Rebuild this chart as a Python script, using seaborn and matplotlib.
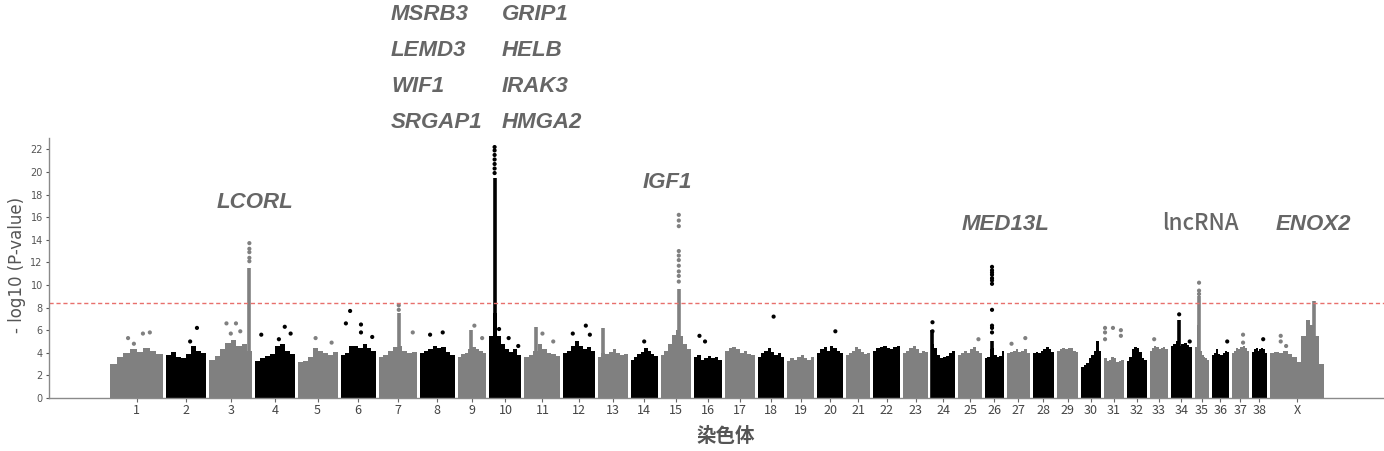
import numpy as np
import pandas as pd
import seaborn as sns
import matplotlib.pyplot as plt

sns.set_style("ticks")
plt.rcParams['font.family'] = ['DejaVu Sans', 'Noto Sans CJK JP']

# chromosomes and their (approximate) lengths in Mb
chrom_names = [str(i) for i in range(1, 39)] + ['X']
chrom_len = [118, 89, 96, 87, 89, 78, 84, 78, 64, 71, 80, 69, 67, 60, 67, 62, 67, 58, 60, 58,
             53, 60, 56, 53, 53, 42, 51, 47, 47, 44, 44, 44, 40, 47, 31, 38, 38, 33, 120]
gap = 6.7

# upper edge of the dense SNP cloud, left to right along each chromosome (-log10 p)
base_profile = [
    [3.0, 3.6, 4.0, 4.3, 4.1, 4.4, 4.2, 3.9],   # 1
    [3.8, 4.1, 3.6, 3.5, 3.9, 4.6, 4.2, 4.0],   # 2
    [3.4, 3.7, 4.3, 4.9, 5.1, 4.6, 4.8, 4.2],   # 3
    [3.3, 3.5, 3.7, 3.9, 4.6, 4.8, 4.2, 3.9],   # 4
    [3.2, 3.3, 3.6, 4.4, 4.2, 4.0, 3.8, 4.1],   # 5
    [3.8, 4.0, 4.6, 4.6, 4.4, 4.8, 4.4, 4.2],   # 6
    [3.6, 3.8, 4.2, 4.5, 4.6, 4.2, 4.0, 4.1],   # 7
    [4.0, 4.2, 4.3, 4.6, 4.4, 4.5, 4.1, 3.8],   # 8
    [3.6, 3.9, 4.0, 4.3, 4.5, 4.3, 4.2, 4.0],   # 9
    [5.5, 7.5, 5.5, 4.8, 4.3, 4.1, 4.3, 3.8],   # 10
    [3.6, 3.8, 4.2, 4.8, 4.3, 4.0, 3.9, 3.7],   # 11
    [4.0, 4.2, 4.6, 5.0, 4.6, 4.3, 4.5, 4.2],   # 12
    [3.6, 4.0, 3.9, 4.1, 4.3, 4.0, 3.8, 3.9],   # 13
    [3.4, 3.6, 3.9, 4.1, 4.4, 4.2, 3.9, 3.7],   # 14
    [3.8, 4.2, 4.8, 5.6, 6.0, 5.5, 4.8, 4.3],   # 15
    [3.6, 3.8, 3.4, 3.5, 3.7, 3.5, 3.6, 3.4],   # 16
    [4.2, 4.4, 4.5, 4.3, 4.0, 4.2, 3.9, 3.8],   # 17
    [3.6, 4.0, 4.2, 4.4, 4.1, 3.8, 4.0, 3.6],   # 18
    [3.3, 3.5, 3.4, 3.6, 3.8, 3.5, 3.4, 3.6],   # 19
    [4.0, 4.3, 4.5, 4.2, 4.6, 4.4, 4.2, 4.0],   # 20
    [3.8, 4.0, 4.2, 4.5, 4.3, 4.1, 3.9, 4.0],   # 21
    [4.2, 4.4, 4.5, 4.6, 4.4, 4.3, 4.5, 4.6],   # 22
    [4.0, 4.2, 4.4, 4.6, 4.3, 4.0, 4.2, 4.1],   # 23
    [4.8, 4.4, 3.8, 3.5, 3.6, 3.7, 4.0, 4.2],   # 24
    [3.8, 4.0, 4.2, 4.0, 4.3, 4.5, 4.2, 4.0],   # 25
    [3.5, 3.6, 4.3, 4.4, 3.8, 3.6, 3.7, 4.2],   # 26
    [4.0, 4.1, 4.2, 4.3, 4.1, 4.2, 4.3, 4.0],   # 27
    [4.0, 4.1, 4.0, 4.2, 4.3, 4.5, 4.3, 4.1],   # 28
    [4.2, 4.3, 4.4, 4.3, 4.4, 4.4, 4.2, 4.1],   # 29
    [2.7, 2.9, 3.1, 3.5, 3.8, 4.2, 5.0, 4.2],   # 30
    [3.5, 3.3, 3.4, 3.6, 3.5, 3.2, 3.3, 3.4],   # 31
    [3.3, 3.6, 4.3, 4.5, 4.4, 4.1, 3.5, 3.4],   # 32
    [4.2, 4.4, 4.6, 4.5, 4.3, 4.4, 4.5, 4.3],   # 33
    [4.6, 4.8, 5.0, 4.6, 4.8, 4.9, 4.7, 4.5],   # 34
    [4.5, 6.5, 5.5, 4.2, 3.8, 3.6, 3.5, 3.4],   # 35
    [3.8, 4.0, 4.3, 3.9, 3.8, 4.0, 4.2, 4.1],   # 36
    [4.0, 4.2, 4.4, 4.3, 4.5, 4.6, 4.4, 4.2],   # 37
    [4.1, 4.3, 4.4, 4.2, 4.3, 4.4, 4.3, 4.0],   # 38
    [4.0, 4.1, 4.0, 4.2, 3.9, 3.6, 3.2, 5.5, 6.9, 6.5, 5.5, 3.0],  # X
]

# dense peak columns: chromosome, relative position, top of the solid run
col_chrom = ['3', '7', '9', '10', '11', '13', '15', '24', '26', '34', '35', 'X']
col_pos = [0.93, 0.53, 0.45, 0.16, 0.33, 0.17, 0.60, 0.05, 0.37, 0.40, 0.30, 0.81]
col_top = [11.5, 7.5, 6.0, 19.5, 6.3, 6.2, 9.6, 6.0, 5.0, 6.9, 9.0, 8.6]

# isolated SNPs above the cloud
pt_chrom = (['1'] * 4 + ['2'] * 2 + ['3'] * 9 + ['4'] * 4 + ['5'] * 2 + ['6'] * 5
            + ['7'] * 3 + ['8'] * 2 + ['9'] * 2 + ['10'] * 10 + ['11'] * 2 + ['12'] * 3
            + ['14'] + ['15'] * 10 + ['16'] * 2 + ['18'] + ['20'] + ['24'] * 2 + ['25']
            + ['26'] * 11 + ['27'] * 2 + ['31'] * 6 + ['33'] + ['34'] * 2 + ['35'] * 3
            + ['36'] + ['37'] * 2 + ['38'] + ['X'] * 3)
pt_pos = ([0.34, 0.62, 0.75, 0.45] + [0.6, 0.77]
          + [0.93, 0.93, 0.93, 0.93, 0.93, 0.40, 0.62, 0.50, 0.72]
          + [0.15, 0.75, 0.90, 0.60] + [0.45, 0.85]
          + [0.27, 0.15, 0.58, 0.58, 0.90] + [0.53, 0.53, 0.90] + [0.66, 0.30]
          + [0.58, 0.85] + [0.16] * 7 + [0.30, 0.60, 0.90] + [0.50, 0.80]
          + [0.85, 0.72, 0.30] + [0.5]
          + [0.60] * 10 + [0.20, 0.40] + [0.60] + [0.70] + [0.05, 0.05] + [0.85]
          + [0.37] * 11 + [0.20, 0.80]
          + [0.05, 0.05, 0.05, 0.45, 0.85, 0.85] + [0.25] + [0.40, 0.90]
          + [0.30, 0.30, 0.30] + [0.90] + [0.65, 0.65] + [0.75] + [0.20, 0.20, 0.30])
pt_val = ([5.3, 5.7, 5.8, 4.8] + [5.0, 6.2]
          + [13.7, 13.2, 12.9, 12.4, 12.1, 6.6, 6.6, 5.7, 5.9]
          + [5.6, 6.3, 5.7, 5.2] + [5.3, 4.9]
          + [7.7, 6.6, 6.5, 5.8, 5.4] + [8.2, 7.8, 5.8] + [5.8, 5.6]
          + [6.4, 5.3] + [22.2, 21.9, 21.5, 21.1, 20.7, 20.3, 19.9, 6.1, 5.3, 4.6]
          + [5.7, 5.0] + [5.6, 6.4, 5.7] + [5.0]
          + [16.2, 15.7, 15.2, 13.0, 12.6, 12.2, 11.7, 11.2, 10.8, 10.3]
          + [5.5, 5.0] + [7.2] + [5.9] + [6.7, 5.9] + [5.2]
          + [11.6, 11.3, 11.1, 10.9, 10.6, 10.4, 10.1, 7.8, 6.4, 6.2, 5.8] + [4.8, 5.3]
          + [6.2, 5.8, 5.2, 6.2, 6.0, 5.5] + [5.2] + [7.4, 5.0]
          + [10.2, 9.5, 9.2] + [5.0] + [5.6, 4.9] + [5.2] + [5.5, 5.0, 4.6])

threshold = 8.4

# ---- layout helpers
starts = np.concatenate([[0], np.cumsum(np.array(chrom_len) + gap)[:-1]])
chrom_start = dict(zip(chrom_names, starts))
chrom_size = dict(zip(chrom_names, chrom_len))
chrom_color = {c: ('#808080' if i % 2 == 0 else '#000000') for i, c in enumerate(chrom_names)}

def to_x(chrom, frac):
    return chrom_start[chrom] + frac * chrom_size[chrom]

fig = plt.figure(figsize=(13.84, 4.51), dpi=100)
ax = fig.add_axes([49 / 1384, 53 / 451, 1 - 49 / 1384, 260 / 451])

for c, prof in zip(chrom_names, base_profile):
    edges = np.linspace(chrom_start[c], chrom_start[c] + chrom_size[c], len(prof) + 1)
    ax.stairs(prof, edges, fill=True, baseline=0, color=chrom_color[c], lw=0)

cols = pd.DataFrame({'chrom': col_chrom, 'pos': col_pos, 'top': col_top})
cols['x'] = [to_x(c, p) for c, p in zip(cols.chrom, cols.pos)]
ax.vlines(cols.x, 0, cols.top, colors=[chrom_color[c] for c in cols.chrom], lw=2.6)

pts = pd.DataFrame({'chrom': pt_chrom, 'pos': pt_pos, 'val': pt_val})
pts['x'] = [to_x(c, p) for c, p in zip(pts.chrom, pts.pos)]
pts['shade'] = [chrom_color[c] for c in pts.chrom]
sns.scatterplot(data=pts, x='x', y='val', hue='shade',
                palette={'#808080': '#808080', '#000000': '#000000'},
                s=9, linewidth=0, legend=False, ax=ax)

ax.axhline(threshold, color='#e8706c', lw=1.0, ls=(0, (3, 2)))

ax.set_xlim(-61 / 0.45, (1384 - 110) / 0.45)
ax.set_ylim(0, 23)
ax.set_yticks(range(0, 23, 2))
ax.set_xticks([chrom_start[c] + chrom_size[c] / 2 for c in chrom_names])
ax.set_xticklabels(chrom_names, family=['Noto Sans CJK JP', 'DejaVu Sans'],
                   fontsize=9, color='#444444')
ax.tick_params(axis='y', labelsize=7, colors='#555555', length=2.5, pad=2)
ax.tick_params(axis='x', colors='#666666', labelcolor='#444444', length=3, pad=1.5)
sns.despine(ax=ax)
for side in ['left', 'bottom']:
    ax.spines[side].set_color('#8a8a8a')
    ax.spines[side].set_linewidth(1.0)

ax.set_ylabel('- log10 (P-value)', fontsize=12, color='#555555', fontweight='medium')
ax.yaxis.set_label_coords(-0.017, 0.51)
ax.set_xlabel('染色体', fontsize=14, fontweight='bold', color='#555555',
              family=['Noto Sans CJK JP', 'DejaVu Sans'])
ax.xaxis.set_label_coords((726 - 49) / 1335, -0.11)

# gene annotations
gene_style = dict(fontsize=16, fontweight='bold', fontstyle='italic', color='#666666',
                  family=['Liberation Sans', 'DejaVu Sans'], va='center')

def ftext(px, py, s, **kw):
    fig.text(px / 1384, 1 - py / 451, s, **kw)

ftext(255, 202, 'LCORL', ha='center', **gene_style)
for py, left, right in zip([14, 50, 87, 122],
                           ['MSRB3', 'LEMD3', 'WIF1', 'SRGAP1'],
                           ['GRIP1', 'HELB', 'IRAK3', 'HMGA2']):
    ftext(391, py, left, ha='left', **gene_style)
    ftext(502, py, right, ha='left', **gene_style)
ftext(667, 183, 'IGF1', ha='center', **gene_style)
ftext(1006, 224, 'MED13L', ha='center', **gene_style)
ftext(1313, 224, 'ENOX2', ha='center', **gene_style)
ftext(1200, 224, 'lncRNA', ha='center', va='center', fontsize=16, fontweight='medium',
      color='#666666', family=['Noto Sans CJK JP', 'DejaVu Sans'])

fig.savefig('out.png', dpi=100)
